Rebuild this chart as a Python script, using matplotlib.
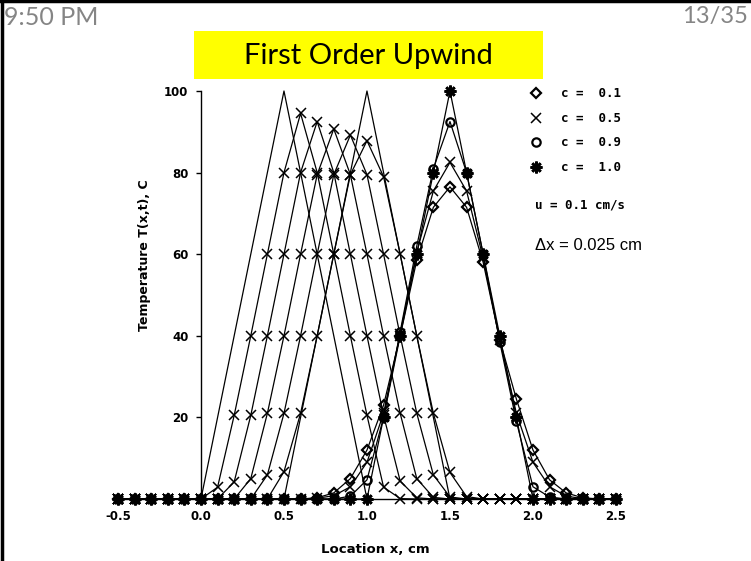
import matplotlib
matplotlib.use("Agg")
import matplotlib.pyplot as plt
from matplotlib.lines import Line2D
from matplotlib.patches import Rectangle

plt.rcParams['axes.unicode_minus'] = False

# grid of plotted nodes, cm
x_grid = [-0.5, -0.4, -0.3, -0.2, -0.1, 0.0, 0.1, 0.2, 0.3, 0.4, 0.5,
          0.6, 0.7, 0.8, 0.9, 1.0, 1.1, 1.2, 1.3, 1.4, 1.5,
          1.6, 1.7, 1.8, 1.9, 2.0, 2.1, 2.2, 2.3, 2.4, 2.5]

# plain triangles: initial pulse and exact pulse after 5 s
x_init = [0.0, 0.5, 1.0]
T_init = [0, 100, 0]
x_exact5 = [0.5, 1.0, 1.5]
T_exact5 = [0, 100, 0]

# c = 0.5 solution at t = 1..5 s
T_c05_t1 = [0, 0, 0, 0, 0, 0, 2.9, 20.5, 40, 60, 80,
            94.5, 80, 60, 40, 20.5, 2.9, 0.1, 0, 0, 0,
            0, 0, 0, 0, 0, 0, 0, 0, 0, 0]
T_c05_t2 = [0, 0, 0, 0, 0, 0, 0, 4.2, 20.5, 40, 60,
            80, 92.5, 80, 60, 40, 20.5, 4.4, 0.3, 0, 0,
            0, 0, 0, 0, 0, 0, 0, 0, 0, 0]
T_c05_t3 = [0, 0, 0, 0, 0, 0, 0, 0, 5.0, 21, 40,
            60, 79.5, 90.7, 79.5, 60, 40, 21, 5.0, 0.4, 0,
            0, 0, 0, 0, 0, 0, 0, 0, 0, 0]
T_c05_t4 = [0, 0, 0, 0, 0, 0, 0, 0, 0, 5.9, 21,
            40, 60, 79.5, 89.2, 79.5, 60, 40, 21, 5.9, 0.5,
            0, 0, 0, 0, 0, 0, 0, 0, 0, 0]
T_c05_t5 = [0, 0, 0, 0, 0, 0, 0, 0, 0, 0, 6.7,
            21, 40, 60, 79.5, 87.8, 79, 60, 40, 21, 6.5,
            0.6, 0, 0, 0, 0, 0, 0, 0, 0, 0]

# solutions after 10 s for several Courant numbers
T_c01 = [0, 0, 0, 0, 0, 0, 0, 0, 0, 0, 0,
         0, 0.3, 1.5, 5.0, 12, 23, 40, 58.5, 71.5, 76.5,
         71.5, 58, 39, 24.5, 12, 4.7, 1.5, 0.3, 0, 0]
T_c05 = [0, 0, 0, 0, 0, 0, 0, 0, 0, 0, 0,
         0, 0.2, 0.8, 3.0, 9, 21, 40.5, 60.5, 75.5, 82.5,
         75.5, 59, 39, 21, 9, 3.0, 0.7, 0.1, 0, 0]
T_c09 = [0, 0, 0, 0, 0, 0, 0, 0, 0, 0, 0,
         0, 0, 0, 0.7, 4.7, 20, 41, 62, 81, 92.5,
         80, 60, 38.5, 19, 3.0, 0.5, 0, 0, 0, 0]
T_c10 = [0, 0, 0, 0, 0, 0, 0, 0, 0, 0, 0,
         0, 0, 0, 0, 0, 20, 40, 60, 80, 100,
         80, 60, 40, 20, 0, 0, 0, 0, 0, 0]

courant_labels = ['c =  0.1', 'c =  0.5', 'c =  0.9', 'c =  1.0']
x_ticks = [-0.5, 0.0, 0.5, 1.0, 1.5, 2.0, 2.5]
y_ticks = [20, 40, 60, 80, 100]

fig = plt.figure(figsize=(7.51, 5.61), dpi=100)

# slide decorations
fig.text(0.005, 0.99, '9:50 PM', ha='left', va='top', color='#858585',
         fontsize=18, family='Lato')
fig.text(0.996, 0.99, '13/35', ha='right', va='top', color='#858585',
         fontsize=17, family='Lato')
fig.add_artist(Rectangle((194 / 751, 1 - 79 / 561), 349 / 751, 48 / 561,
                         transform=fig.transFigure, facecolor='#ffff00',
                         edgecolor='none'))
fig.text(368 / 751, 1 - 56 / 561, 'First Order Upwind', ha='center',
         va='center', fontsize=21, family='Lato')
fig.add_artist(Line2D([0.002, 0.002], [0, 1], transform=fig.transFigure,
                      color='black', lw=2.5))
fig.add_artist(Line2D([0, 1], [0.998, 0.998], transform=fig.transFigure,
                      color='black', lw=2.5))

ax = fig.add_axes([0.1571, 0.1105, 0.6631, 0.7273])

line_kw = dict(color='black', lw=0.9, clip_on=False)

ax.plot(x_init, T_init, **line_kw)
ax.plot(x_exact5, T_exact5, **line_kw)

for T in [T_c05_t1, T_c05_t2, T_c05_t3, T_c05_t4, T_c05_t5]:
    ax.plot(x_grid, T, marker='x', ms=7, mew=1.1, **line_kw)

diamond = dict(marker='D', ms=5, mfc='none', mew=1.6)
cross = dict(marker='x', ms=7, mew=1.1)
circle = dict(marker='o', ms=6, mfc='none', mew=1.6)
star = dict(marker=(8, 2, 0), ms=8.5, mew=1.9)

ax.plot(x_grid, T_c01, **diamond, **line_kw)
ax.plot(x_grid, T_c05, **cross, **line_kw)
ax.plot(x_grid, T_c09, **circle, **line_kw)
ax.plot(x_grid, T_c10, **star, **line_kw)

handles = [Line2D([], [], color='black', ls='none', **m)
           for m in (diamond, cross, circle, star)]
ax.legend(handles, courant_labels, loc='upper left', bbox_to_anchor=(0.815, 1.024),
          frameon=False, borderpad=0, handlelength=1.0, handletextpad=1.45,
          labelspacing=0.92,
          prop=dict(family='DejaVu Sans Mono', weight='bold', size=9))

ax.text(0.837, 0.72, 'u = 0.1 cm/s', transform=ax.transAxes, ha='left',
        va='center', family='DejaVu Sans Mono', weight='bold', fontsize=9)
ax.text(0.837, 0.622, '\u0394x = 0.025 cm', transform=ax.transAxes, ha='left',
        va='center', family='Liberation Sans', fontsize=12)

ax.set_xlim(-0.5, 2.5)
ax.set_ylim(0, 100)

ax.spines['top'].set_visible(False)
ax.spines['right'].set_visible(False)
ax.spines['left'].set_position(('data', 0))
ax.spines['left'].set_linewidth(1.0)
ax.spines['bottom'].set_linewidth(1.0)

ax.set_xticks(x_ticks)
ax.set_xticklabels(['%.1f' % v for v in x_ticks])
ax.set_yticks(y_ticks)
ax.tick_params(axis='x', length=0, pad=8, labelsize=8.5)
ax.tick_params(axis='y', direction='out', length=3.6, width=1, pad=5.5, labelsize=8.5)
for lab in ax.get_xticklabels() + ax.get_yticklabels():
    lab.set_fontweight('bold')

ax.set_xlabel('Location x, cm', fontsize=9.5, fontweight='bold')
ax.set_ylabel('Temperature T(x,t), C', fontsize=9, fontweight='bold')
ax.xaxis.set_label_coords(0.516, -0.108)
ax.yaxis.set_label_coords(0.066, 0.598)

fig.savefig('out.png', dpi=100)
